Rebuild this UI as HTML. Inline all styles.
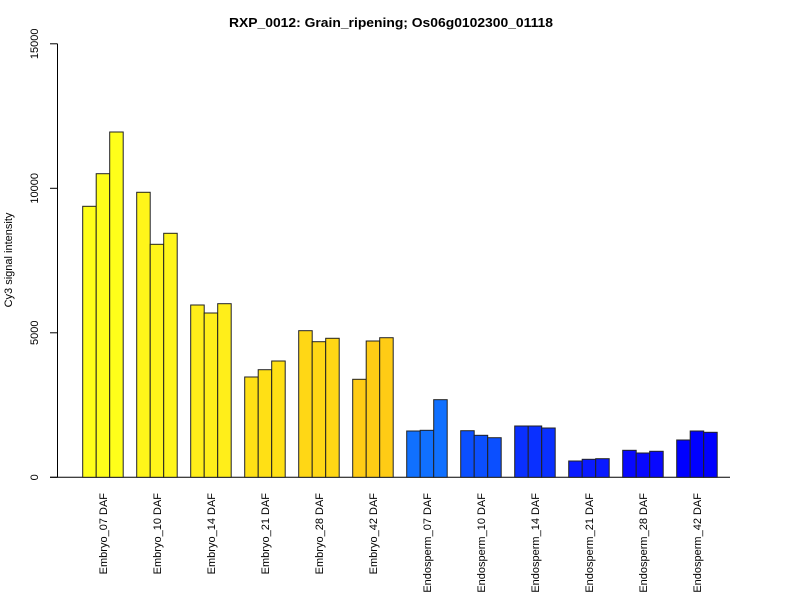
<!DOCTYPE html>
<html><head><meta charset="utf-8"><style>body{margin:0;background:#fff}svg{display:block;font-family:"Liberation Sans",Arial,sans-serif}</style></head>
<body>
<svg id="chart" width="800" height="600" xmlns="http://www.w3.org/2000/svg">
<rect width="800" height="600" fill="#fff"/>
<text x="391" y="27" text-anchor="middle" font-size="13" font-weight="bold" textLength="324" lengthAdjust="spacingAndGlyphs">RXP_0012: Grain_ripening; Os06g0102300_01118</text>
<text transform="translate(12,260) rotate(-90)" text-anchor="middle" font-size="11">Cy3 signal intensity</text>
<g id="yaxis"></g>
<g id="bars"></g>
<g id="xlabels"></g>
</svg>
<script>
const categories = ["Embryo_07 DAF","Embryo_10 DAF","Embryo_14 DAF","Embryo_21 DAF","Embryo_28 DAF","Embryo_42 DAF","Endosperm_07 DAF","Endosperm_10 DAF","Endosperm_14 DAF","Endosperm_21 DAF","Endosperm_28 DAF","Endosperm_42 DAF"];
const rep1 = [9377,9862,5962,3471,5073,3391,1602,1612,1775,564,934,1291];
const rep2 = [10505,8062,5685,3723,4692,4716,1626,1453,1775,623,841,1602];
const rep3 = [11948,8443,6007,4024,4810,4830,2686,1370,1706,644,900,1557];
const groupColors = ["#FFFF1A","#FFF51A","#FFEE1A","#FFE015","#FFD715","#FFCC15","#1070FF","#0B4FFF","#0A30FF","#0A1AFF","#0808FF","#0000FF"];
const yTicks = [0,5000,10000,15000];
const yTickLabels = ["0","5000","10000","15000"];

const NS="http://www.w3.org/2000/svg";
const y0=477.3, pxPerUnit=144.5/5000;
function yScale(v){return y0 - v*pxPerUnit;}
const barW=13.5, groupStart=82.7, groupStep=54;
function xScale(g,r){return groupStart + g*groupStep + r*barW;}
function mk(tag,attrs,parent){const e=document.createElementNS(NS,tag);for(const k in attrs)e.setAttribute(k,attrs[k]);parent.appendChild(e);return e;}

const ya=document.getElementById('yaxis');
const al=mk('line',{x1:57.5,x2:57.5,y1:yScale(15000),y2:yScale(0),stroke:'#000'},ya);


yTicks.forEach((t,i)=>{
  const tk=mk('line',{x1:50,x2:57.5,y1:yScale(t),y2:yScale(t),stroke:'#000'},ya);
  
  
  const tx=mk('text',{transform:`translate(38,${yScale(t)}) rotate(-90)`,'text-anchor':'middle','font-size':'11'},ya);
  
  
  tx.textContent=yTickLabels[i];
});
const base=mk('line',{x1:50,x2:730,y1:y0,y2:y0,stroke:'#000'},ya);



const bg=document.getElementById('bars');
const series=[rep1,rep2,rep3];
categories.forEach((c,g)=>{
  series.forEach((s,r)=>{
    const v=s[g];
    const b=mk('rect',{x:xScale(g,r),y:yScale(v),width:barW,height:y0-yScale(v),fill:groupColors[g],stroke:'#222','stroke-width':1},bg);
    
    
  });
  const cx=xScale(g,1.5)+4;
  const lb=mk('text',{transform:`translate(${cx},493) rotate(-90)`,'text-anchor':'end','font-size':'11'},document.getElementById('xlabels'));
  
  
  lb.textContent=c;
});
</script>
</body></html>
